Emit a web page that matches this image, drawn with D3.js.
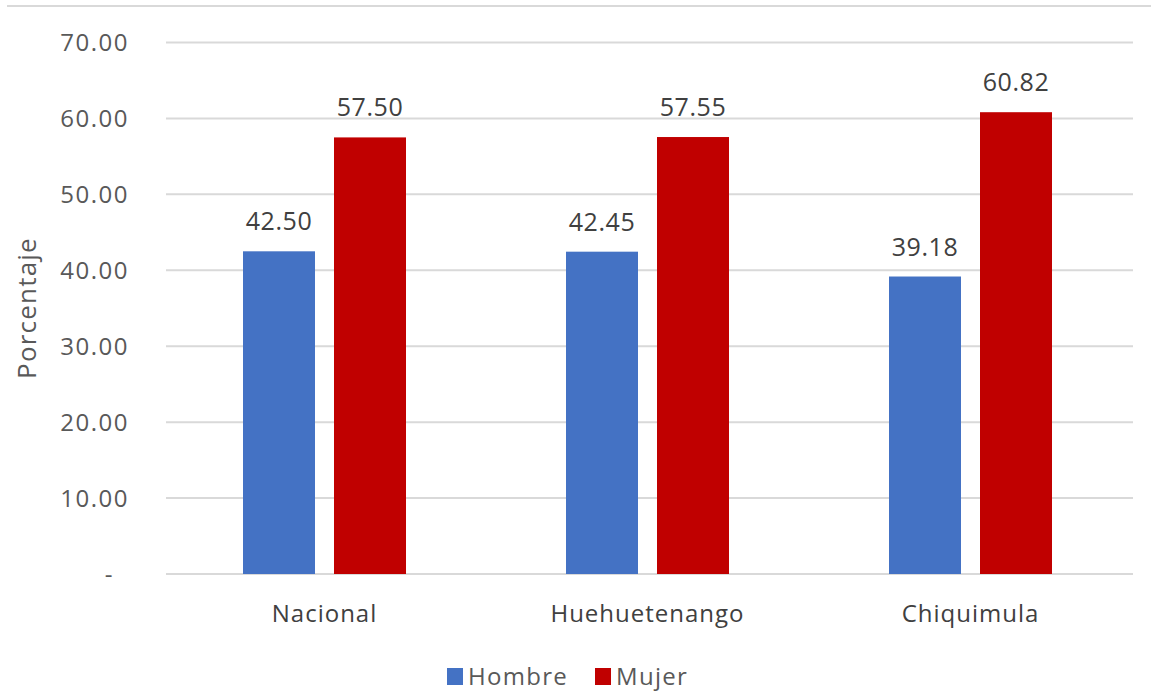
<!DOCTYPE html>
<html>
<head>
  <meta charset="utf-8">
  <title>Porcentaje por sexo</title>
  <script src="https://d3js.org/d3.v7.min.js"></script>
  <style>
    body { margin: 0; background: #fff; }
    svg { font-family: "Open Sans", sans-serif; }
    .tick-label { font-size: 24px; fill: #595959; letter-spacing: 1.5px; }
    .value-label { font-size: 25px; fill: #404040; letter-spacing: 0.6px; }
    .cat-label { font-size: 24px; fill: #404040; letter-spacing: 1px; }
    .legend-label { font-size: 24px; fill: #595959; letter-spacing: 1.3px; }
    .axis-title { font-size: 26px; fill: #595959; letter-spacing: 1.2px; }
    .grid line { stroke: #d9d9d9; stroke-width: 2; }
  </style>
</head>
<body>
  <svg id="chart" width="1151" height="693"></svg>

  <script>
    // Data
    const categories = ["Nacional", "Huehuetenango", "Chiquimula"];
    const seriesNames = ["Hombre", "Mujer"];
    const hombre = [42.50, 42.45, 39.18];
    const mujer = [57.50, 57.55, 60.82];
    const yTicks = [0, 10, 20, 30, 40, 50, 60, 70];

    const colors = { Hombre: "#4472C4", Mujer: "#C00000" };

    const svg = d3.select("#chart");

    // chart border line at the top
    svg.append("line")
      .attr("x1", 7).attr("x2", 1151)
      .attr("y1", 6).attr("y2", 6)
      .attr("stroke", "#d9d9d9").attr("stroke-width", 2);

    const x = d3.scaleBand()
      .domain(categories)
      .range([163, 1132]);

    // two bars of 72px with a 19px gap, centred in each band
    const pairWidth = 163;
    const xSeries = d3.scaleBand()
      .domain(seriesNames)
      .range([(x.bandwidth() - pairWidth) / 2, (x.bandwidth() + pairWidth) / 2])
      .paddingInner(19 / 91);

    const y = d3.scaleLinear()
      .domain([0, 70])
      .range([574, 42.5]);

    // gridlines
    const grid = svg.append("g").attr("class", "grid");
    grid.selectAll("line")
      .data(yTicks)
      .enter()
      .append("line")
      .attr("x1", 166)
      .attr("x2", 1133)
      .attr("y1", (d) => y(d))
      .attr("y2", (d) => y(d));

    // y tick labels (accounting style: zero shown as a dash)
    svg.selectAll(".tick-label")
      .data(yTicks)
      .enter()
      .append("text")
      .attr("class", "tick-label")
      .attr("x", (d) => (d === 0 ? 114 : 129))
      .attr("y", (d) => y(d))
      .attr("dy", "0.36em")
      .attr("text-anchor", "end")
      .text((d) => (d === 0 ? "-" : d3.format(".2f")(d)));

    // y axis title
    svg.append("text")
      .attr("class", "axis-title")
      .attr("transform", "translate(36,308) rotate(-90)")
      .attr("text-anchor", "middle")
      .text("Porcentaje");

    // bars
    const rows = categories.map((c, i) => ({
      category: c,
      values: [
        { series: "Hombre", value: hombre[i] },
        { series: "Mujer", value: mujer[i] },
      ],
    }));

    const groups = svg.selectAll(".group")
      .data(rows)
      .enter()
      .append("g")
      .attr("class", "group")
      .attr("transform", (d) => `translate(${x(d.category)},0)`);

    groups.selectAll("rect")
      .data((d) => d.values)
      .enter()
      .append("rect")
      .attr("x", (d) => xSeries(d.series))
      .attr("width", xSeries.bandwidth())
      .attr("y", (d) => y(d.value))
      .attr("height", (d) => y(0) - y(d.value))
      .attr("fill", (d) => colors[d.series]);

    groups.selectAll(".value-label")
      .data((d) => d.values)
      .enter()
      .append("text")
      .attr("class", "value-label")
      .attr("x", (d) => xSeries(d.series) + xSeries.bandwidth() / 2)
      .attr("y", (d) => y(d.value) - 21)
      .attr("text-anchor", "middle")
      .text((d) => d3.format(".2f")(d.value));

    // category labels
    svg.selectAll(".cat-label")
      .data(categories)
      .enter()
      .append("text")
      .attr("class", "cat-label")
      .attr("x", (d) => x(d) + x.bandwidth() / 2)
      .attr("y", 622)
      .attr("text-anchor", "middle")
      .text((d) => d);

    // legend
    const legend = svg.append("g").attr("transform", "translate(447,668)");
    const legendX = [0, 148];
    seriesNames.forEach((s, i) => {
      const g = legend.append("g").attr("transform", `translate(${legendX[i]},0)`);
      g.append("rect")
        .attr("width", 16).attr("height", 17)
        .attr("fill", colors[s]);
      g.append("text")
        .attr("class", "legend-label")
        .attr("x", 21)
        .attr("y", 17)
        .text(s);
    });
  </script>
</body>
</html>
